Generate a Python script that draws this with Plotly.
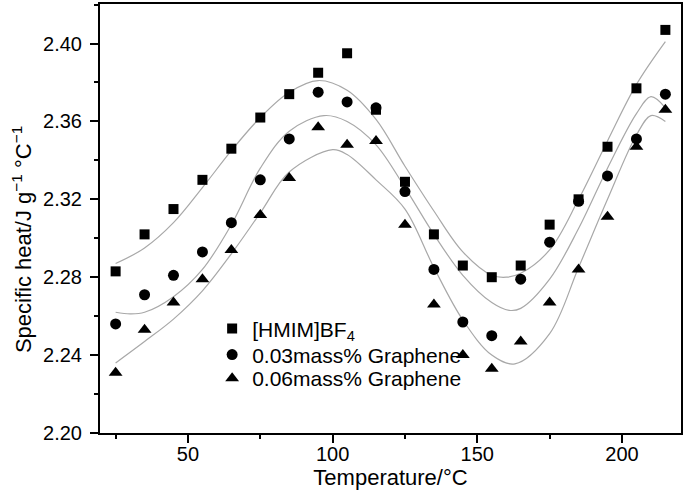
import plotly.graph_objects as go

# ---- data ----
temps = [25, 35, 45, 55, 65, 75, 85, 95, 105, 115, 125, 135, 145, 155, 165, 175, 185, 195, 205, 215]
hmim = [2.283, 2.302, 2.315, 2.330, 2.346, 2.362, 2.374, 2.385, 2.395, 2.366, 2.329, 2.302,
        2.286, 2.280, 2.286, 2.307, 2.320, 2.347, 2.377, 2.407]
g003 = [2.256, 2.271, 2.281, 2.293, 2.308, 2.330, 2.351, 2.375, 2.370, 2.367, 2.324, 2.284,
        2.257, 2.250, 2.279, 2.298, 2.319, 2.332, 2.351, 2.374]
g006 = [2.231, 2.253, 2.267, 2.279, 2.294, 2.312, 2.331, 2.357, 2.348, 2.350, 2.307, 2.266,
        2.240, 2.233, 2.247, 2.267, 2.284, 2.311, 2.347, 2.366]

# fitted curves
fit_x_hmim = [25, 35, 45, 55, 65, 75, 85, 95, 105, 115, 125, 135, 145, 155, 160, 165, 175, 185, 195, 205, 215]
fit_hmim = [2.287, 2.295, 2.308, 2.326, 2.345, 2.362, 2.375, 2.381, 2.376, 2.361, 2.337, 2.314,
            2.293, 2.281, 2.280, 2.282, 2.294, 2.320, 2.350, 2.379, 2.401]
fit_x_g003 = [25, 30, 35, 45, 55, 65, 75, 85, 97, 105, 115, 125, 135, 145, 155, 161, 165, 175, 185, 195, 205, 210, 215]
fit_g003 = [2.262, 2.2612, 2.262, 2.270, 2.284, 2.307, 2.336, 2.355, 2.363, 2.360, 2.348, 2.326,
            2.302, 2.281, 2.267, 2.263, 2.264, 2.279, 2.305, 2.336, 2.364, 2.3727, 2.367]
fit_x_g006 = [25, 35, 45, 55, 65, 75, 85, 100, 105, 115, 125, 135, 145, 155, 163, 175, 185, 195, 205, 210, 215]
fit_g006 = [2.236, 2.247, 2.2585, 2.273, 2.292, 2.313, 2.334, 2.3455, 2.343, 2.330, 2.315, 2.285,
            2.258, 2.240, 2.2355, 2.251, 2.285, 2.320, 2.353, 2.363, 2.360]

names = ["[HMIM]BF<sub>4</sub>", "0.03mass% Graphene", "0.06mass% Graphene"]
FONT = "Liberation Sans, Arial, sans-serif"

fig = go.Figure()
curve_style = dict(color="#a8a8a8", width=1.2, shape="spline", smoothing=1.0)
for fx, fy in [(fit_x_hmim, fit_hmim), (fit_x_g003, fit_g003), (fit_x_g006, fit_g006)]:
    fig.add_trace(go.Scatter(x=fx, y=fy, mode="lines", line=curve_style,
                             showlegend=False, hoverinfo="skip"))

for ys, name, sym, sz, lg in [(hmim, names[0], "square", 10, "legend"),
                              (g003, names[1], "circle", 11, "legend2"),
                              (g006, names[2], "triangle-up", 12, "legend3")]:
    fig.add_trace(go.Scatter(x=temps, y=ys, mode="markers", name=name, legend=lg,
                             marker=dict(symbol=sym, size=sz, color="black",
                                         line=dict(width=0))))

axis_common = dict(showline=True, linewidth=2, linecolor="black", mirror=True,
                   showgrid=False, zeroline=False, ticks="outside", ticklen=8,
                   tickwidth=1.5, tickcolor="black",
                   tickfont=dict(family=FONT, size=20, color="black"))

fig.update_xaxes(range=[19.6, 220.4], tick0=0, dtick=50, ticklabelstandoff=-6,
                 minor=dict(ticks="outside", ticklen=4, tickwidth=1.5, tickcolor="black",
                            tick0=0, dtick=25),
                 title=dict(text="Temperature/°C", font=dict(family=FONT, size=22, color="black"),
                            standoff=0),
                 **axis_common)
fig.update_yaxes(range=[2.20, 2.4203], tick0=2.20, dtick=0.04, tickformat=".2f",
                 ticklabelstandoff=4,
                 minor=dict(ticks="outside", ticklen=4, tickwidth=1.5, tickcolor="black",
                            tick0=2.20, dtick=0.02),
                 **axis_common)

fig.add_annotation(text="Specific heat/J g<sup>−1</sup> °C<sup>−1</sup>",
                   xref="paper", yref="paper", x=-0.134, y=0.45, textangle=-90,
                   xanchor="center", yanchor="middle",
                   showarrow=False, font=dict(family=FONT, size=22, color="black"))

leg_common = dict(x=0.193, xanchor="left", yanchor="middle",
                  bgcolor="rgba(0,0,0,0)", borderwidth=0,
                  font=dict(family=FONT, size=21, color="black"), itemwidth=30)

fig.update_layout(
    width=685, height=496,
    margin=dict(l=100, r=2, t=2, b=63),
    plot_bgcolor="white", paper_bgcolor="white",
    font=dict(family=FONT, size=20, color="black"),
    legend=dict(y=0.243, **leg_common),
    legend2=dict(y=0.182, **leg_common),
    legend3=dict(y=0.127, **leg_common),
)

fig.write_html("out.html", config={"displayModeBar": False},
               post_script="document.body.style.margin='0';")
